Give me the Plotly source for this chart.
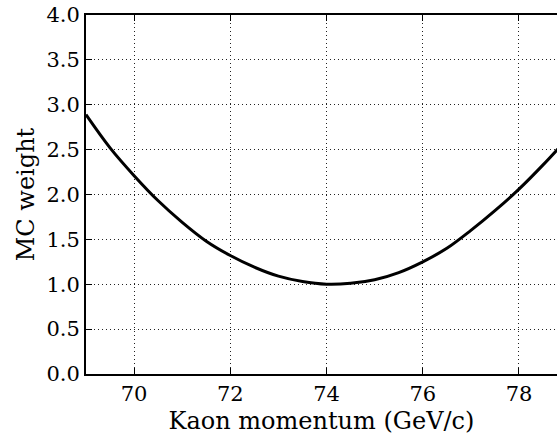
import plotly.graph_objects as go

# Kaon momentum (GeV/c) and the corresponding Monte Carlo weight
momentum = [69.0, 69.5, 70.0, 70.5, 71.0, 71.5, 72.0, 72.5, 73.0, 73.5, 74.0,
            74.5, 75.0, 75.5, 76.0, 76.5, 77.0, 77.5, 78.0, 78.5, 79.0]
weight = [2.89, 2.52, 2.21, 1.93, 1.69, 1.48, 1.32, 1.19, 1.09, 1.03, 1.00,
          1.01, 1.05, 1.13, 1.25, 1.40, 1.60, 1.82, 2.06, 2.33, 2.62]

x_ticks = [70, 72, 74, 76, 78]
y_ticks = [0.0, 0.5, 1.0, 1.5, 2.0, 2.5, 3.0, 3.5, 4.0]

FONT = "DejaVu Serif, serif"
TICK_SIZE = 21
TITLE_SIZE = 24

fig = go.Figure()
fig.add_trace(go.Scatter(
    x=momentum, y=weight, mode="lines",
    line=dict(color="black", width=3, shape="spline"),
    showlegend=False, hoverinfo="skip",
))

fig.update_layout(
    width=557, height=441,
    margin=dict(l=86, r=0, t=15, b=67),
    paper_bgcolor="white", plot_bgcolor="white",
    font=dict(family=FONT, size=TICK_SIZE, color="black"),
)

grid = dict(showgrid=True, gridcolor="#222222", gridwidth=1, griddash="1px,3px")

fig.update_xaxes(
    range=[69, 78.79],
    tickvals=x_ticks, ticktext=[str(v) for v in x_ticks],
    showline=True, linecolor="black", linewidth=2, mirror="ticks",
    ticks="inside", ticklen=6, tickwidth=1, tickcolor="black",
    zeroline=False, **grid,
    title=dict(text="Kaon momentum (GeV/c)", font=dict(family=FONT, size=TITLE_SIZE), standoff=7),
    tickfont=dict(family=FONT, size=TICK_SIZE),
)
fig.update_yaxes(
    range=[0, 4],
    tickvals=y_ticks, ticktext=[f"{v:.1f}" for v in y_ticks],
    showline=True, linecolor="black", linewidth=2,
    ticks="inside", ticklen=6, tickwidth=1, tickcolor="black",
    zeroline=False, **grid,
    title=dict(text="MC weight", font=dict(family=FONT, size=TITLE_SIZE), standoff=5),
    tickfont=dict(family=FONT, size=TICK_SIZE),
)

fig.write_html("out.html")
